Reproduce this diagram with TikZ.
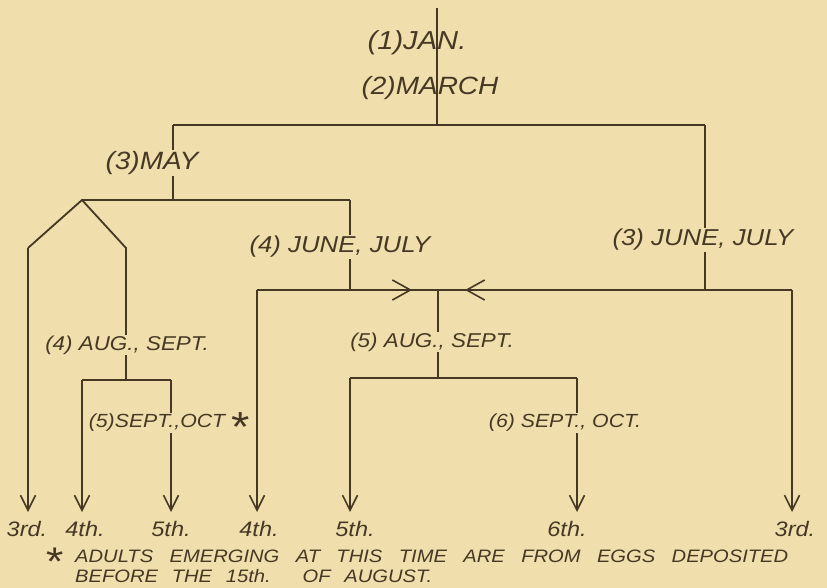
\documentclass[tikz,border=0pt]{standalone}
\usepackage{fontspec}
\setmainfont{Liberation Sans}
\newfontfamily\hand{Liberation Sans}[FakeStretch=1.12]
\usetikzlibrary{arrows.meta}
\definecolor{paper}{RGB}{240,223,172}
\definecolor{ink}{RGB}{70,56,36}
\pgfdeclarelayer{back}
\pgfdeclarelayer{lines}
\pgfsetlayers{back,lines,main}
\begin{document}
\begin{tikzpicture}[x=1pt,y=-1pt,
  conn/.style={draw=ink,line width=1.8pt,line join=miter,line cap=butt},
  downarrow/.style={conn,-{Straight Barb[length=15pt,width=15pt,line width=1.6pt]}},
  midarrow/.style={conn,-{Straight Barb[length=18pt,width=20pt,line width=1.6pt]}},
  lab/.style={font=\hand\itshape\fontsize{#1}{#1}\selectfont,text=ink,fill=paper,inner sep=1pt},
  lab/.default=20,
  bare/.style={fill=none},
  fnline/.style={lab=18,bare,anchor=west,inner sep=0pt}]
\begin{pgfonlayer}{back}
\fill[paper] (0,0) rectangle (827,588);
\end{pgfonlayer}
\useasboundingbox (0,0) rectangle (827,588);

% labels
\node[lab=26,bare] (jan) at (417,43) {(1)JAN.};
\node[lab=25,bare] (march) at (430,88) {(2)MARCH};
\node[lab=25] (may) at (152,163) {(3)MAY};
\node[lab=23] (jj4) at (340,247) {(4) JUNE, JULY};
\node[lab=23] (jj3) at (703,240) {(3) JUNE, JULY};
\node[lab=20] (aug4) at (127,345) {(4) AUG., SEPT.};
\node[lab=19] (sept5) at (157,423) {(5)SEPT.,OCT};
\node[lab=42,bare] (star) at (239,427) {*};
\node[lab=20] (aug5) at (432,342) {(5) AUG., SEPT.};
\node[lab=19] (sept6) at (565,423) {(6) SEPT., OCT.};

% bottom labels
\node[lab=21,bare] (l1) at (27,529) {3rd.};
\node[lab=21,bare] (l2) at (85,529) {4th.};
\node[lab=21,bare] (l3) at (171,529) {5th.};
\node[lab=21,bare] (l4) at (259,529) {4th.};
\node[lab=21,bare] (l5) at (355,529) {5th.};
\node[lab=21,bare] (l6) at (567,529) {6th.};
\node[lab=21,bare] (l7) at (795,529) {3rd.};

% footnote
\node[lab=40,bare] (fnstar) at (53,562) {*};
\node[fnline] (fn1) at (75,556)
  {\makebox[713pt][s]{ADULTS EMERGING AT THIS TIME ARE FROM EGGS DEPOSITED}};
\node[fnline] (fn2) at (75,576)
  {\makebox[357pt][s]{BEFORE THE 15th. OF AUGUST.}};

% junction coordinates
\coordinate (top) at (437,8);
\coordinate (t1) at (437,125);
\coordinate (L0) at (173,125);
\coordinate (R0) at (705,125);
\coordinate (L1) at (173,200);
\coordinate (A) at (82,200);
\coordinate (B) at (350,200);
\coordinate (Al) at (28,248);
\coordinate (Ar) at (126,248);
\coordinate (C) at (126,380);
\coordinate (Cl) at (82,380);
\coordinate (Cr) at (171,380);
\coordinate (D) at (350,290);
\coordinate (Hl) at (257,290);
\coordinate (Hr) at (792,290);
\coordinate (R1) at (705,290);
\coordinate (E) at (438,290);
\coordinate (F) at (438,378);
\coordinate (Fl) at (350,378);
\coordinate (Fr) at (577,378);
\coordinate (m1) at (392,290);
\coordinate (m1t) at (412,290);
\coordinate (m2) at (485,290);
\coordinate (m2t) at (465,290);
% arrow tips
\coordinate (e1) at (28,512);
\coordinate (e2) at (82,512);
\coordinate (e3) at (171,512);
\coordinate (e4) at (257,512);
\coordinate (e5) at (350,512);
\coordinate (e6) at (577,512);
\coordinate (e7) at (792,512);

\begin{pgfonlayer}{lines}
\draw[conn] (top) -- (t1);
\draw[conn] (L0) -- (R0);
\draw[conn] (L0) -- (L1);
\draw[conn] (A) -- (B);
\draw[conn] (Al) -- (A) -- (Ar) -- (C);
\draw[conn] (Cl) -- (Cr);
\draw[conn] (B) -- (D);
\draw[conn] (R0) -- (R1);
\draw[conn] (Hl) -- (Hr);
\draw[conn] (E) -- (F);
\draw[conn] (Fl) -- (Fr);
\draw[downarrow] (Al) -- (e1);
\draw[downarrow] (Cl) -- (e2);
\draw[downarrow] (Cr) -- (e3);
\draw[downarrow] (Hl) -- (e4);
\draw[downarrow] (Fl) -- (e5);
\draw[downarrow] (Fr) -- (e6);
\draw[downarrow] (Hr) -- (e7);
\draw[midarrow] (m1) -- (m1t);
\draw[midarrow] (m2) -- (m2t);
\end{pgfonlayer}
\end{tikzpicture}
\end{document}
